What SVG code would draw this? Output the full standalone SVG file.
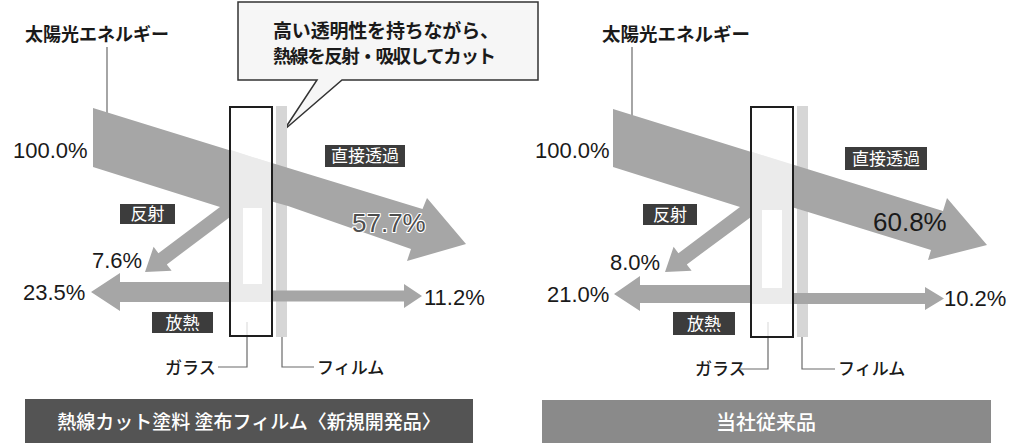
<svg xmlns="http://www.w3.org/2000/svg" width="1024" height="448" viewBox="0 0 1024 448">
<style>
.jp{font-family:"Noto Sans CJK JP","Noto Sans",sans-serif;fill:#1a1a1a}
.b{font-weight:bold}
.m{font-weight:500}
.lbl{font-family:"Noto Sans CJK JP","Noto Sans",sans-serif;fill:#ffffff;font-size:17px;text-anchor:middle}
.num{font-family:"Liberation Sans",Arial,sans-serif;fill:#1a1a1a;font-size:22px}
.big{font-family:"Liberation Sans",Arial,sans-serif;font-size:26px}
.arr{fill:#a6a6a6}
.film{fill:#d6d6d6}
.glass{fill:#ffffff;fill-opacity:0.78;stroke:#1e1e1e;stroke-width:2}
.col{fill:#a6a6a6}
.inner{fill:#ffffff}
.lead{fill:none;stroke:#6a6a6a;stroke-width:1.2}
.box{fill:#3c3c3c}
.cap{font-family:"Noto Sans CJK JP","Noto Sans",sans-serif;fill:#ffffff;text-anchor:middle;font-weight:500}
</style>
<rect width="1024" height="448" fill="#ffffff"/>

<g id="callout">
<path d="M238,2 H538 V80 H342 L284,130 L317,80 H238 Z" fill="#f6f6f6" stroke="#333333" stroke-width="1.5"/>
<text class="jp b" x="273" y="38" font-size="19" textLength="226" lengthAdjust="spacing">高い透明性を持ちながら、</text>
<text class="jp b" x="273" y="63" font-size="18.5" textLength="223" lengthAdjust="spacing">熱線を反射・吸収してカット</text>
</g>

<g id="connectors">
<line class="lead" x1="107" y1="47" x2="107" y2="127"/>
<polyline class="lead" points="218,367 247,367 247,322"/>
<polyline class="lead" points="282,322 282,367 314,367"/>
<line class="lead" x1="632" y1="47" x2="632" y2="127"/>
<polyline class="lead" points="740,369 768,369 768,322"/>
<polyline class="lead" points="802,322 802,369 835,369"/>
</g>

<g id="panel-left">
<text class="jp b" x="25" y="41" font-size="18">太陽光エネルギー</text>
<rect class="film" x="276" y="106" width="11" height="231"/>
<path class="arr" d="M93,108 L232,151 L232,215.5 L166.8,264.4 L171.6,270.8 L145,272 L153.6,246.8 L158.4,253.2 L220,207 L93,167 Z"/>
<path class="arr" d="M231,150.5 L422.5,209 L427,198 L466,244 L407,261 L411,249 L288,206 L231,190 Z"/>
<path class="arr" d="M232,282 L120,282 L120,273 L91,292 L120,311 L120,302 L232,302 Z"/>
<path class="arr" d="M266,290.5 L404,290.5 L404,284 L422,296 L404,308 L404,301.5 L266,301.5 Z"/>
<path class="col" d="M231,150 L271,163 L271,302 L231,302 Z"/>
<rect class="inner" x="243" y="208" width="19" height="76"/>
<rect class="glass" x="230" y="107" width="42" height="229"/>
<rect class="box" x="325" y="145" width="80" height="22"/>
<text class="lbl" x="365" y="162">直接透過</text>
<rect class="box" x="120" y="204" width="55" height="20"/>
<text class="lbl" x="147.5" y="220">反射</text>
<rect class="box" x="152" y="312" width="61" height="21"/>
<text class="lbl" x="182.5" y="329">放熱</text>
<text class="num" x="13" y="158">100.0%</text>
<text class="num" x="92" y="268">7.6%</text>
<text class="num" x="23" y="300">23.5%</text>
<text class="num" x="424" y="305">11.2%</text>
<text class="big" x="352" y="232" fill="#4e4e4e" stroke="#ffffff" stroke-width="2.2" paint-order="stroke" stroke-linejoin="round">57.7%</text>
<text class="jp m" x="165" y="374" font-size="17">ガラス</text>
<text class="jp m" x="317" y="374" font-size="17">フィルム</text>
</g>

<g id="panel-right">
<text class="jp b" x="602" y="41" font-size="18.5">太陽光エネルギー</text>
<rect class="film" x="797" y="106" width="11" height="231"/>
<path class="arr" d="M613,109 L753,152.5 L753,215.5 L686.8,264.4 L691.6,270.8 L665,272 L673.6,246.8 L678.4,253.2 L740,207 L613,167 Z"/>
<path class="arr" d="M752,152 L943,211 L947,198 L987,245 L928,260 L931,250 L808,212 L752,195 Z"/>
<path class="arr" d="M753,285 L640,285 L640,276 L614,294 L640,311 L640,303 L753,303 Z"/>
<path class="arr" d="M787,293 L925,293 L925,287 L944,298.5 L925,310 L925,304 L787,304 Z"/>
<path class="col" d="M752,152 L792,165 L792,304 L752,304 Z"/>
<rect class="inner" x="762" y="210" width="20" height="78"/>
<rect class="glass" x="751" y="107" width="42" height="230"/>
<rect class="box" x="845" y="147" width="82" height="23"/>
<text class="lbl" x="886" y="165">直接透過</text>
<rect class="box" x="643" y="204" width="54" height="21"/>
<text class="lbl" x="670" y="221">反射</text>
<rect class="box" x="673" y="312" width="62" height="23"/>
<text class="lbl" x="704" y="330">放熱</text>
<text class="num" x="535" y="158">100.0%</text>
<text class="num" x="610" y="270">8.0%</text>
<text class="num" x="547" y="302">21.0%</text>
<text class="num" x="944" y="306">10.2%</text>
<text class="big" x="873" y="231" fill="#1a1a1a">60.8%</text>
<text class="jp m" x="695" y="375" font-size="17">ガラス</text>
<text class="jp m" x="838" y="375" font-size="17">フィルム</text>
</g>

<g id="caption-left">
<rect x="25" y="399" width="448" height="44" fill="#545454"/>
<text class="cap" x="249" y="429" font-size="19">熱線カット塗料 塗布フィルム〈新規開発品〉</text>
</g>
<g id="caption-right">
<rect x="542" y="400" width="449" height="43" fill="#8a8a8a"/>
<text class="cap" x="766" y="430" font-size="20">当社従来品</text>
</g>
</svg>
